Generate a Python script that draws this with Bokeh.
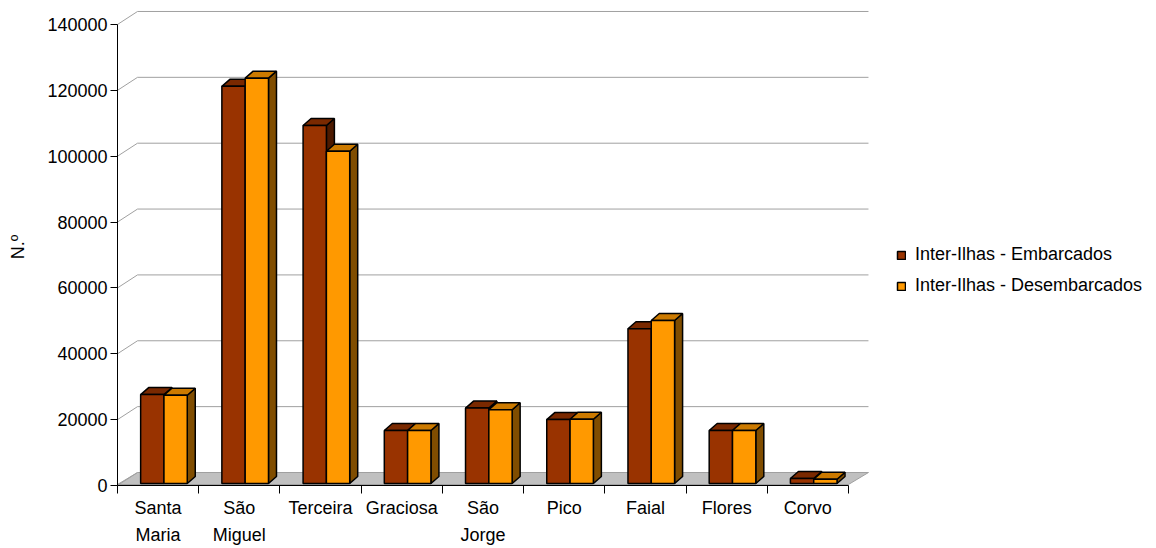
from bokeh.plotting import figure
from bokeh.models import Range1d, FixedTicker, Legend, LegendItem
from bokeh.embed import file_html
from bokeh.resources import INLINE

# ---------------- data ----------------
islands = ["Santa Maria", "São Miguel", "Terceira", "Graciosa", "São Jorge",
           "Pico", "Faial", "Flores", "Corvo"]
embarcados = [27000, 120600, 108700, 16100, 22900, 19400, 47000, 16100, 1500]
desembarcados = [26800, 123100, 100900, 16100, 22400, 19500, 49500, 16100, 1300]
series_names = ["Inter-Ilhas - Embarcados", "Inter-Ilhas - Desembarcados"]
y_ticks = [0, 20000, 40000, 60000, 80000, 100000, 120000, 140000]
y_tick_labels = ["0", "20000", "40000", "60000", "80000", "100000", "120000", "140000"]
y_label = "N.º"

# ---------------- geometry (pixels -> data units) ----------------
PX_PER_CAT = 81.22
PX_PER_UNIT = 0.003293
FONT = "Liberation Sans"
FS = "18px"

def dx(px):
    return px / PX_PER_CAT

def dy(px):
    return px / PX_PER_UNIT

n = len(islands)
wall_dx, wall_dy = dx(20), dy(13)       # depth of the chart box
bar_dx, bar_dy = dx(8), dy(7)           # depth of each bar
bar_base = dy(2)                        # bars stand slightly back on the floor
bar_off = 0.285                         # left offset of first bar in category
bar_w = 0.287                           # bar width in category units

x_end = dx(1156 - 117)
y_end = dy(485 - 8)

p = figure(width=1156, height=548, x_range=Range1d(0, x_end), y_range=Range1d(0, y_end),
           min_border_left=117, min_border_right=0, min_border_top=8,
           min_border_bottom=548 - 485, output_backend="svg", toolbar_location=None)
p.outline_line_color = None
p.xgrid.visible = False
p.ygrid.visible = False
p.background_fill_color = "white"

GRID = "#a0a0a0"

# floor
p.patch([0, n, n + wall_dx, wall_dx], [dy(1), dy(1), wall_dy, wall_dy],
        fill_color="#c0c0c0", line_color=GRID, line_width=1)

# back-wall gridlines and left-wall diagonals
gx, gy = [], []
for v in y_ticks:
    if v > 0:
        gx.append([wall_dx, n + wall_dx])
        gy.append([v + wall_dy, v + wall_dy])
    gx.append([0, wall_dx])
    gy.append([v, v + wall_dy])
p.multi_line(gx, gy, line_color=GRID, line_width=1)

# bars
colors = [
    dict(front="#993300", top="#7a2900", side="#4d1a00"),
    dict(front="#ff9900", top="#cc7a00", side="#804d00"),
]
front_renderers = []
for s, vals in enumerate([embarcados, desembarcados]):
    fx, fy, tx, ty, sx, sy = [], [], [], [], [], []
    for i, v in enumerate(vals):
        x0 = i + bar_off + s * bar_w
        x1 = x0 + bar_w
        b = bar_base
        t = bar_base + v
        fx.append([x0, x1, x1, x0]); fy.append([b, b, t, t])
        tx.append([x0, x1, x1 + bar_dx, x0 + bar_dx]); ty.append([t, t, t + bar_dy, t + bar_dy])
        sx.append([x1, x1 + bar_dx, x1 + bar_dx, x1]); sy.append([b, b + bar_dy, t + bar_dy, t])
    c = colors[s]
    p.patches(sx, sy, fill_color=c["side"], line_color="black", line_width=1.5)
    p.patches(tx, ty, fill_color=c["top"], line_color="black", line_width=1.5)
    r = p.patches(fx, fy, fill_color=c["front"], line_color="black", line_width=1.5)
    front_renderers.append(r)

# x axis
xa = p.xaxis[0]
xa.ticker = FixedTicker(ticks=[i + 0.5 for i in range(n)], minor_ticks=list(range(n + 1)))
xa.major_label_overrides = {i + 0.5: name.replace(" ", "\n") for i, name in enumerate(islands)}
xa.bounds = (0, n)
xa.major_tick_line_color = None
xa.minor_tick_line_color = "black"
xa.minor_tick_out = 8
xa.minor_tick_in = 0
xa.axis_line_color = "black"
xa.major_label_text_font = FONT
xa.major_label_text_font_size = FS
xa.major_label_text_color = "black"
xa.major_label_standoff = 4
xa.major_label_text_line_height = 1.36

# y axis
ya = p.yaxis[0]
ya.ticker = FixedTicker(ticks=y_ticks, minor_ticks=[])
ya.major_label_overrides = {v: lab for v, lab in zip(y_ticks, y_tick_labels)}
ya.bounds = (0, y_ticks[-1])
ya.major_tick_out = 7
ya.major_tick_in = 0
ya.minor_tick_line_color = None
ya.axis_line_color = "black"
ya.major_label_text_font = FONT
ya.major_label_text_font_size = FS
ya.major_label_text_color = "black"
ya.major_label_standoff = 3
ya.axis_label = y_label
ya.axis_label_text_font = FONT
ya.axis_label_text_font_size = FS
ya.axis_label_text_font_style = "normal"
ya.axis_label_text_color = "black"
ya.axis_label_standoff = 16

legend = Legend(items=[LegendItem(label=series_names[k], renderers=[front_renderers[k]]) for k in range(2)],
                location=(779, 189), padding=0, margin=0, spacing=10,
                glyph_width=10, glyph_height=10, label_height=20, label_standoff=9,
                border_line_color=None, background_fill_alpha=0,
                label_text_font=FONT, label_text_font_size=FS, label_text_color="black")
p.add_layout(legend)

open("out.html", "w").write(file_html(p, INLINE))
